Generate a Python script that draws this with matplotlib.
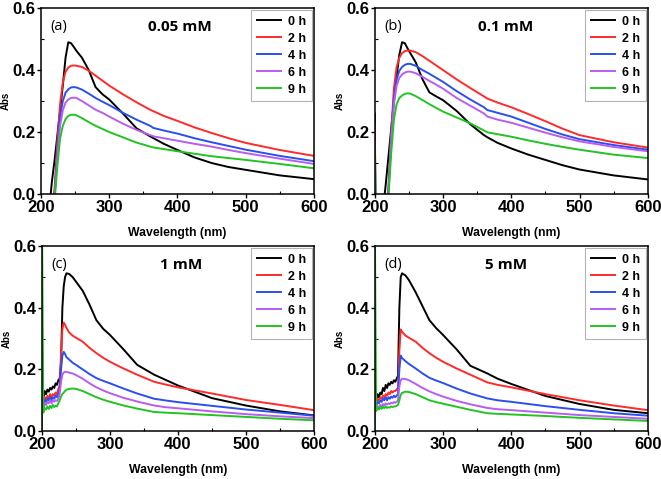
import matplotlib
matplotlib.use("Agg")
import matplotlib.pyplot as plt
from matplotlib.ticker import MultipleLocator

plt.rcParams['font.family'] = ['Liberation Sans', 'DejaVu Sans']

labels = ['0 h', '2 h', '4 h', '6 h', '9 h']
colors = ['#000000', '#ff2a2a', '#2a4ff0', '#b95cf2', '#22c322']

# (a) 0.05 mM
wl_a = [212, 216, 220, 224, 228, 232, 236, 240, 244, 248, 252, 260, 270, 280, 290,
        300, 320, 340, 360, 365, 380, 400, 425, 450, 475, 500, 550, 600]
a_0h = [-0.05, 0.04, 0.11, 0.19, 0.27, 0.35, 0.44, 0.49, 0.487, 0.475, 0.462, 0.44, 0.40,
        0.345, 0.322, 0.305, 0.26, 0.212, 0.186, 0.18, 0.162, 0.142, 0.118, 0.1, 0.087,
        0.078, 0.06, 0.048]
a_2h = [-0.05, -0.05, 0.02, 0.17, 0.29, 0.36, 0.395, 0.408, 0.414, 0.415, 0.414, 0.41, 0.398,
        0.382, 0.366, 0.35, 0.322, 0.296, 0.272, 0.267, 0.252, 0.236, 0.215, 0.197, 0.18,
        0.165, 0.142, 0.123]
a_4h = [-0.05, -0.05, 0.0, 0.14, 0.25, 0.3, 0.327, 0.338, 0.344, 0.345, 0.344, 0.337, 0.324,
        0.31, 0.298, 0.287, 0.262, 0.24, 0.22, 0.213, 0.205, 0.195, 0.18, 0.167, 0.155,
        0.143, 0.123, 0.106]
a_6h = [-0.05, -0.05, -0.01, 0.12, 0.22, 0.27, 0.295, 0.305, 0.31, 0.311, 0.31, 0.3, 0.286,
        0.272, 0.262, 0.25, 0.227, 0.207, 0.19, 0.186, 0.18, 0.172, 0.162, 0.153, 0.142,
        0.132, 0.114, 0.097]
a_9h = [-0.05, -0.05, -0.02, 0.09, 0.18, 0.22, 0.242, 0.252, 0.256, 0.256, 0.254, 0.245, 0.232,
        0.22, 0.21, 0.2, 0.183, 0.166, 0.153, 0.15, 0.145, 0.138, 0.13, 0.122, 0.116,
        0.11, 0.097, 0.083]

# (b) 0.1 mM
wl_b = [200, 201, 212, 216, 220, 224, 228, 232, 236, 240, 244, 248, 252, 260, 270, 280, 290,
        300, 320, 340, 360, 365, 380, 400, 425, 450, 475, 500, 550, 600]
b_0h = [0.26, -0.05, -0.05, 0.03, 0.12, 0.21, 0.3, 0.38, 0.45, 0.49, 0.487, 0.47, 0.455, 0.425,
        0.37, 0.328, 0.315, 0.303, 0.268, 0.225, 0.19, 0.183, 0.165, 0.147, 0.127, 0.11, 0.093,
        0.079, 0.06, 0.047]
b_2h = [0.225, -0.05, -0.05, -0.05, 0.02, 0.2, 0.34, 0.41, 0.44, 0.455, 0.461, 0.463, 0.463, 0.458,
        0.445, 0.43, 0.415, 0.4, 0.37, 0.342, 0.315, 0.308, 0.295, 0.28, 0.258, 0.235, 0.211,
        0.19, 0.167, 0.15]
b_4h = [0.19, -0.05, -0.05, -0.05, 0.01, 0.18, 0.31, 0.37, 0.398, 0.41, 0.417, 0.42, 0.42, 0.414,
        0.4, 0.388, 0.375, 0.362, 0.332, 0.305, 0.28, 0.271, 0.262, 0.25, 0.23, 0.21, 0.192,
        0.177, 0.158, 0.143]
b_6h = [0.17, -0.05, -0.05, -0.05, 0.0, 0.17, 0.29, 0.35, 0.375, 0.386, 0.392, 0.395, 0.395, 0.39,
        0.378, 0.365, 0.353, 0.34, 0.31, 0.285, 0.26, 0.25, 0.24, 0.23, 0.214, 0.198, 0.183,
        0.17, 0.152, 0.138]
b_9h = [0.14, -0.05, -0.05, -0.05, -0.01, 0.13, 0.24, 0.29, 0.31, 0.318, 0.323, 0.325, 0.324, 0.316,
        0.303, 0.29, 0.278, 0.266, 0.247, 0.228, 0.205, 0.199, 0.193, 0.185, 0.173, 0.162, 0.152,
        0.143, 0.127, 0.116]

# (c) 1 mM
wl_c = [200, 200, 202, 204, 206, 208, 210, 212, 214, 216, 218, 220, 222, 224, 226, 228, 230, 232,
        234, 236, 240, 245, 250, 260, 270, 280, 290, 300, 320, 340, 365, 380, 400, 450, 500, 550, 600]
c_0h = [0.105, 0.105, 0.105, 0.13, 0.12, 0.135, 0.128, 0.14, 0.135, 0.145, 0.14, 0.155, 0.15, 0.165,
        0.17, 0.22, 0.4, 0.47, 0.5, 0.512, 0.51, 0.5, 0.485, 0.455, 0.41, 0.36, 0.332, 0.312, 0.265,
        0.215, 0.183, 0.168, 0.148, 0.107, 0.083, 0.064, 0.051]
c_2h = [0.09, 0.09, 0.09, 0.11, 0.1, 0.115, 0.105, 0.12, 0.11, 0.12, 0.115, 0.125, 0.12, 0.135,
        0.15, 0.25, 0.33, 0.352, 0.345, 0.335, 0.32, 0.31, 0.303, 0.29, 0.27, 0.253, 0.238, 0.225,
        0.203, 0.183, 0.16, 0.152, 0.142, 0.122, 0.101, 0.085, 0.068]
c_4h = [0.08, 0.08, 0.08, 0.1, 0.095, 0.105, 0.1, 0.11, 0.1, 0.11, 0.105, 0.115, 0.11, 0.12,
        0.135, 0.2, 0.245, 0.257, 0.25, 0.24, 0.232, 0.222, 0.215, 0.2, 0.185, 0.172, 0.163, 0.155,
        0.138, 0.122, 0.105, 0.1, 0.094, 0.082, 0.07, 0.06, 0.05]
c_6h = [0.07, 0.07, 0.07, 0.09, 0.085, 0.095, 0.09, 0.1, 0.09, 0.1, 0.095, 0.1, 0.098, 0.105,
        0.12, 0.16, 0.183, 0.19, 0.192, 0.192, 0.19, 0.187, 0.182, 0.17, 0.155, 0.142, 0.132, 0.123,
        0.108, 0.096, 0.083, 0.078, 0.074, 0.064, 0.055, 0.048, 0.042]
c_9h = [-0.1, 0.7, 0.06, 0.075, 0.07, 0.08, 0.072, 0.082, 0.075, 0.085, 0.078, 0.082, 0.08, 0.09,
        0.1, 0.112, 0.12, 0.125, 0.13, 0.134, 0.137, 0.138, 0.137, 0.13, 0.12, 0.11, 0.102, 0.095,
        0.083, 0.073, 0.062, 0.06, 0.058, 0.052, 0.046, 0.04, 0.035]

# (d) 5 mM
wl_d = [200, 200, 202, 204, 206, 208, 210, 212, 214, 216, 218, 220, 222, 224, 226, 228, 230, 232,
        234, 236, 238, 240, 245, 250, 260, 270, 280, 290, 300, 320, 340, 365, 380, 400, 450, 500,
        550, 600]
d_0h = [0.1, 0.1, 0.1, 0.12, 0.11, 0.125, 0.12, 0.14, 0.13, 0.15, 0.14, 0.155, 0.15, 0.16, 0.155,
        0.165, 0.16, 0.17, 0.18, 0.4, 0.5, 0.512, 0.505, 0.49, 0.45, 0.405, 0.36, 0.334, 0.312,
        0.265, 0.212, 0.187, 0.17, 0.153, 0.114, 0.088, 0.069, 0.058]
d_2h = [0.09, 0.09, 0.09, 0.105, 0.1, 0.11, 0.105, 0.115, 0.11, 0.12, 0.115, 0.125, 0.12, 0.13,
        0.125, 0.13, 0.13, 0.135, 0.14, 0.26, 0.33, 0.322, 0.31, 0.303, 0.29, 0.27, 0.253, 0.238,
        0.225, 0.203, 0.183, 0.158, 0.15, 0.142, 0.12, 0.1, 0.083, 0.068]
d_4h = [0.08, 0.08, 0.08, 0.095, 0.09, 0.1, 0.095, 0.105, 0.1, 0.11, 0.1, 0.11, 0.105, 0.112,
        0.108, 0.115, 0.11, 0.115, 0.12, 0.2, 0.245, 0.237, 0.227, 0.218, 0.203, 0.187, 0.173,
        0.164, 0.156, 0.138, 0.122, 0.106, 0.1, 0.095, 0.081, 0.069, 0.058, 0.05]
d_6h = [0.07, 0.07, 0.07, 0.08, 0.078, 0.085, 0.08, 0.088, 0.084, 0.09, 0.086, 0.09, 0.088, 0.092,
        0.09, 0.094, 0.092, 0.095, 0.1, 0.145, 0.165, 0.17, 0.169, 0.165, 0.153, 0.14, 0.129, 0.12,
        0.112, 0.098, 0.087, 0.075, 0.071, 0.068, 0.06, 0.052, 0.046, 0.04]
d_9h = [-0.1, 0.7, 0.065, 0.075, 0.07, 0.078, 0.072, 0.08, 0.074, 0.08, 0.075, 0.078, 0.076, 0.08,
        0.078, 0.08, 0.08, 0.082, 0.085, 0.1, 0.118, 0.124, 0.128, 0.127, 0.12, 0.11, 0.1, 0.094,
        0.089, 0.079, 0.069, 0.058, 0.056, 0.054, 0.049, 0.043, 0.038, 0.033]

panels = [
    ('(a)', '0.05 mM', wl_a, [a_0h, a_2h, a_4h, a_6h, a_9h], [0.062, 0.595, 0.413, 0.388], 0.51),
    ('(b)', '0.1 mM', wl_b, [b_0h, b_2h, b_4h, b_6h, b_9h], [0.567, 0.595, 0.413, 0.388], 0.48),
    ('(c)', '1 mM', wl_c, [c_0h, c_2h, c_4h, c_6h, c_9h], [0.0635, 0.100, 0.4115, 0.386], 0.51),
    ('(d)', '5 mM', wl_d, [d_0h, d_2h, d_4h, d_6h, d_9h], [0.567, 0.100, 0.413, 0.386], 0.48),
]

fig = plt.figure(figsize=(6.61, 4.79), dpi=100)

for tag, conc, wl, series, pos, cx in panels:
    ax = fig.add_axes(pos)
    for vals, lab, col in zip(series, labels, colors):
        ax.plot(wl, vals, color=col, lw=1.4, label=lab)
    ax.set_xlim(200, 600)
    ax.set_ylim(0, 0.6)
    ax.xaxis.set_major_locator(MultipleLocator(100))
    ax.xaxis.set_minor_locator(MultipleLocator(50))
    ax.yaxis.set_major_locator(MultipleLocator(0.2))
    ax.yaxis.set_minor_locator(MultipleLocator(0.1))
    ax.yaxis.set_major_formatter(plt.FormatStrFormatter('%.1f'))
    ax.tick_params(which='major', direction='out', length=3, width=1, labelsize=12, pad=1)
    ax.tick_params(which='minor', direction='in', length=2, width=0.8)
    for lbl in ax.get_xticklabels() + ax.get_yticklabels():
        lbl.set_fontweight('bold')
    for sp in ax.spines.values():
        sp.set_linewidth(1.1)
    ax.set_xlabel('Wavelength (nm)', fontsize=8.8, fontweight='bold', labelpad=9)
    ax.set_ylabel('Abs', fontsize=7, fontweight='bold', labelpad=1)
    ax.text(0.035, 0.9, tag, transform=ax.transAxes, fontsize=10.5, family='Open Sans',
            va='center', ha='left')
    ax.text(cx, 0.9, conc, transform=ax.transAxes, fontsize=11, family='Open Sans',
            fontweight='bold', va='center', ha='center')
    leg = ax.legend(loc='upper right', frameon=True, fancybox=False,
                    borderaxespad=0.15, handlelength=1.9, labelspacing=0.4,
                    handletextpad=0.6, borderpad=0.45, prop={'weight': 'bold', 'size': 9})
    leg.get_frame().set_edgecolor('#a0a0a0')
    leg.get_frame().set_linewidth(0.8)

fig.savefig('out.png', dpi=100)
